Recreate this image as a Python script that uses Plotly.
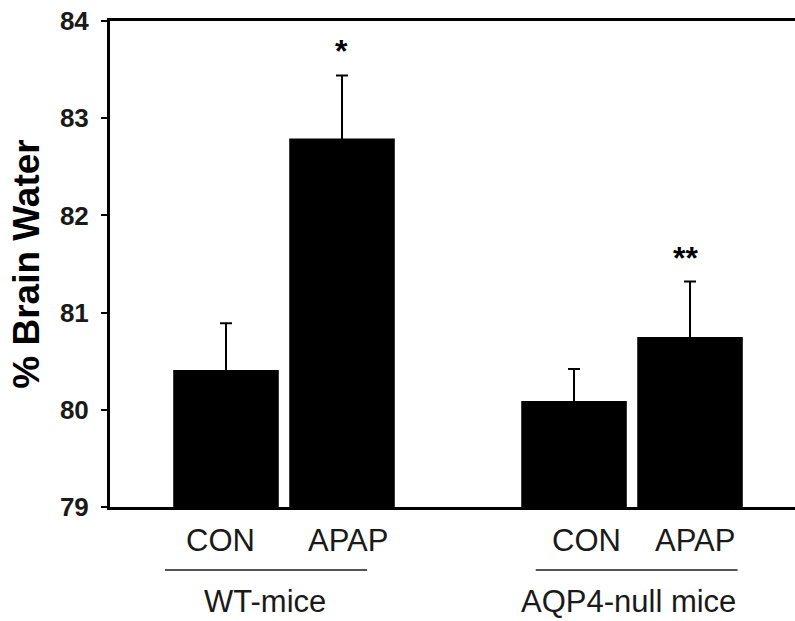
import plotly.graph_objects as go

# Data
groups = ["WT-mice", "AQP4-null mice"]
treatments = ["CON", "APAP", "CON", "APAP"]
bar_pos = [1, 2, 4, 5]
values = [80.41, 82.79, 80.09, 80.75]
errors = [0.48, 0.65, 0.33, 0.57]
stars = ["", "*", "", "**"]
yticks = [79, 80, 81, 82, 83, 84]

FONT = "Liberation Sans, Arial, sans-serif"
CAP_HIDE = 0.03  # hides the lower whisker cap inside the bar

fig = go.Figure()
fig.add_trace(go.Bar(
    x=bar_pos, y=[v - 79 for v in values], base=79,
    width=0.91,
    marker=dict(color="black", line=dict(width=0)),
    error_y=dict(type="data", array=errors, arrayminus=[CAP_HIDE]*len(values), symmetric=False,
                 color="black", thickness=2, width=6),
    hoverinfo="skip",
))

annotations = []
# treatment labels
shifts = [-6, 6, 12, 5]
for x, t, s in zip(bar_pos, treatments, shifts):
    annotations.append(dict(x=x, y=0, xref="x", yref="paper", text=t, showarrow=False,
                            yanchor="middle", yshift=-33, xshift=s,
                            font=dict(family=FONT, size=31, color="#1a1a1a")))
# significance stars
for x, v, e, st in zip(bar_pos, values, errors, stars):
    if st:
        annotations.append(dict(x=x, y=v + e, xref="x", yref="y", text="<b>" + st + "</b>",
                                showarrow=False, yanchor="bottom", yshift=4,
                                xshift=-5 if st == "**" else -1,
                                font=dict(family=FONT, size=32, color="black")))
# group labels and underline
group_spans = [(0.474, 2.216), (3.67, 5.41)]
group_centers = [1.34, 4.47]
shapes = []
for (x0, x1), gc, g in zip(group_spans, group_centers, groups):
    shapes.append(dict(type="line", xref="x", yref="paper", x0=x0, x1=x1,
                       y0=-63 / 486, y1=-63 / 486, line=dict(color="#555", width=2)))
    annotations.append(dict(x=gc, y=0, xref="x", yref="paper", text=g, showarrow=False,
                            yanchor="middle", yshift=-94,
                            font=dict(family=FONT, size=31, color="#1a1a1a")))

fig.update_layout(
    width=795, height=621,
    margin=dict(l=110, r=0, t=21, b=114, autoexpand=False),
    plot_bgcolor="white", paper_bgcolor="white",
    showlegend=False,
    annotations=annotations,
    shapes=shapes,
    xaxis=dict(range=[0, 5.905], showticklabels=False, ticks="", showgrid=False,
               zeroline=False, showline=True, linecolor="black", linewidth=3, mirror=True,
               automargin=False),
    yaxis=dict(range=[79, 84], tickvals=yticks, ticks="outside", ticklen=6, tickwidth=2,
               tickcolor="black", showgrid=False, zeroline=False, showline=True,
               linecolor="black", linewidth=3, automargin=False,
               ticklabelstandoff=7, ticklabeloverflow="allow",
               tickfont=dict(family=FONT, size=26, color="#1a1a1a", weight="bold"),
               title=dict(text="<b>% Brain Water</b>", standoff=9,
                          font=dict(family=FONT, size=37, color="black"))),
)

fig.write_html("out.html", config={"displayModeBar": False},
               post_script="document.body.style.margin='0';document.body.style.overflow='hidden';")
